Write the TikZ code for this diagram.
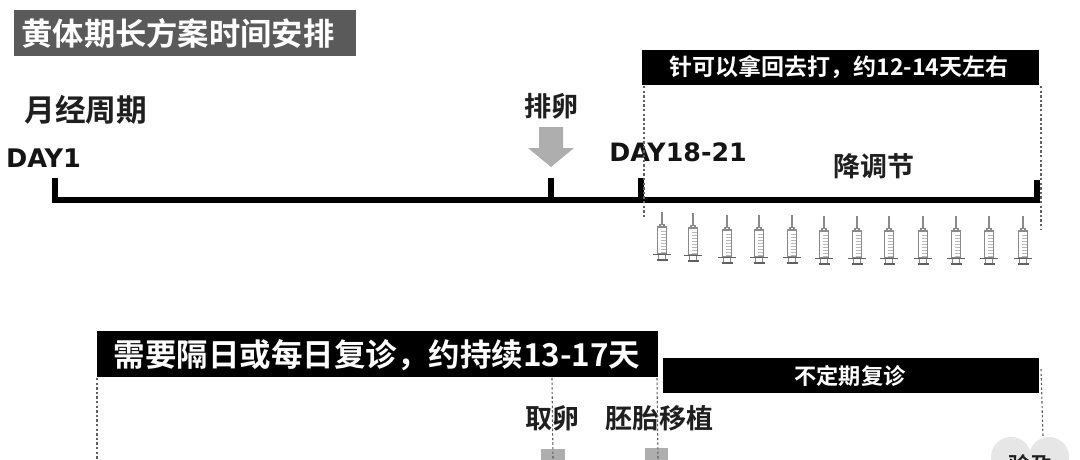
\documentclass[tikz,border=0pt]{standalone}
\usepackage{fontspec}
\setmainfont{DejaVu Sans}
\newfontfamily\cjk{Noto Sans CJK SC}[BoldFont={Noto Sans CJK SC Bold}]
\definecolor{darkband}{HTML}{5A5A5A}
\definecolor{arrowgray}{HTML}{AEAEAE}
\definecolor{dashgray}{HTML}{606060}
\definecolor{syr}{HTML}{8A8A8A}
\definecolor{bubble}{HTML}{E6E6E6}
\tikzset{
  x=1pt,y=-1pt,
  band/.style={fill=black,draw=none,inner sep=0},
  zh/.style={font=\cjk\bfseries\fontsize{#1}{#1}\selectfont,inner sep=0,text=black!88},
  zhw/.style={font=\cjk\bfseries\fontsize{#1}{#1}\selectfont,inner sep=0,text=white},
  latin/.style={font=\bfseries\fontsize{#1}{#1}\selectfont,inner sep=0,text=black!92},
  axisline/.style={line width=6pt,black},
  tickline/.style={line width=6pt,black},
  guide/.style={dashgray,line width=1.1pt,dash pattern=on 2.4pt off 2.2pt},
  pics/syringe/.style={code={
    \draw[syr,line width=1.3pt] (0,0) -- (0,12);
    \draw[syr,line width=1.2pt] (-2,15) -- (-2,12.5) -- (2,12.5) -- (2,15);
    \draw[syr,line width=1.5pt,fill=white] (-4.5,15) rectangle (4.5,42);
    \foreach \k in {19,22,25,28,31,34,37,40} \draw[syr!60,line width=0.7pt] (-1,\k) -- (4,\k);
    \draw[syr!70!black,line width=1.9pt] (-9,42.5) -- (9,42.5);
    \draw[syr,line width=1.3pt] (-3.5,43) -- (-3.5,48) (3.5,43) -- (3.5,48);
    \draw[syr!70!black,line width=1.9pt] (-5.5,48) -- (5.5,48);
  }}
}
\begin{document}
\begin{tikzpicture}
\useasboundingbox (0,0) rectangle (1080,460);
\clip (0,0) rectangle (1080,460);
\fill[white] (0,0) rectangle (1080,460);

% title
\node[fill=darkband,minimum width=342pt,minimum height=46pt,inner sep=0,anchor=north west] (title) at (14,10) {};
\node[zhw=31.3] (titletext) at (178,33) {黄体期长方案时间安排};

% upper timeline labels
\node[zh=30.7] (cycle) at (86,110) {月经周期};
\node[latin=25.6] (day1) at (43.5,158) {DAY1};
\node[zh=27.2] (ovul) at (551.5,106) {排卵};
\node[latin=25.3] (day18) at (678,152) {DAY18-21};
\node[zh=27] (down) at (873.5,166) {降调节};

% upper black band
\node[band,minimum width=397pt,minimum height=35pt,anchor=north west] (bandA) at (642,50) {};
\node[zhw=23] (bandAt) at (839,67.5) {针可以拿回去打，约12-14天左右};

% arrow
\fill[arrowgray] (539,127) -- (563,127) -- (563,148) -- (574,148) -- (551,167) -- (528,148) -- (539,148) -- cycle;

% axis
\coordinate (axL) at (52,200);
\coordinate (axR) at (1040,200);
\coordinate (t1) at (55,178);
\coordinate (t1b) at (55,200);
\coordinate (t2) at (551,178);
\coordinate (t2b) at (551,200);
\coordinate (t3) at (641,178);
\coordinate (t3b) at (641,200);
\coordinate (t4) at (1037,180);
\coordinate (t4b) at (1037,200);
\draw[axisline] (axL) -- (axR);
\draw[tickline] (t1) -- (t1b);
\draw[tickline] (t2) -- (t2b);
\draw[tickline] (t3) -- (t3b);
\draw[tickline] (t4) -- (t4b);

% upper guides
\coordinate (g1) at (644,86);
\coordinate (g1e) at (644,218);
\coordinate (g2) at (1041,86);
\coordinate (g2e) at (1041,230);
\draw[guide] (g1) -- (g1e);
\draw[guide] (g2) -- (g2e);

% syringes
\foreach \x/\y in {662/212,693/213,727/215,759/215,792/215,824/216,857/216,889/216,923/216,956/216,989/216,1023/216}
  \pic at (\x,\y) {syringe};

% lower bands
\node[band,minimum width=561pt,minimum height=46pt,anchor=north west] (bandB) at (97,331) {};
\node[zhw=31.5] (bandBt) at (377,355) {需要隔日或每日复诊，约持续13-17天};
\node[band,minimum width=376pt,minimum height=35pt,anchor=north west] (bandC) at (663,358) {};
\node[zhw=22.2] (bandCt) at (850,376) {不定期复诊};

% lower labels
\node[zh=27] (egg) at (552.5,418) {取卵};
\node[zh=27] (embryo) at (659,418) {胚胎移植};

% gray markers
\fill[arrowgray] (541,449) rectangle (565,460);
\fill[arrowgray] (645,448) rectangle (668,460);

% bubble
\fill[bubble] (1011,457) circle (20);
\fill[bubble] (1049,457) circle (20);
\node[zh=22] (preg) at (1030,465) {验孕};

% lower guides
\coordinate (h1) at (97,378);
\coordinate (h1e) at (97,460);
\coordinate (h2) at (552,378);
\coordinate (h2e) at (553,460);
\coordinate (h3) at (657,378);
\coordinate (h3e) at (658,460);
\coordinate (h4) at (1041,369);
\coordinate (h4e) at (1043,437);
\draw[guide] (h1) -- (h1e);
\draw[guide] (h2) -- (h2e);
\draw[guide] (h3) -- (h3e);
\draw[guide] (h4) -- (h4e);
\end{tikzpicture}
\end{document}
